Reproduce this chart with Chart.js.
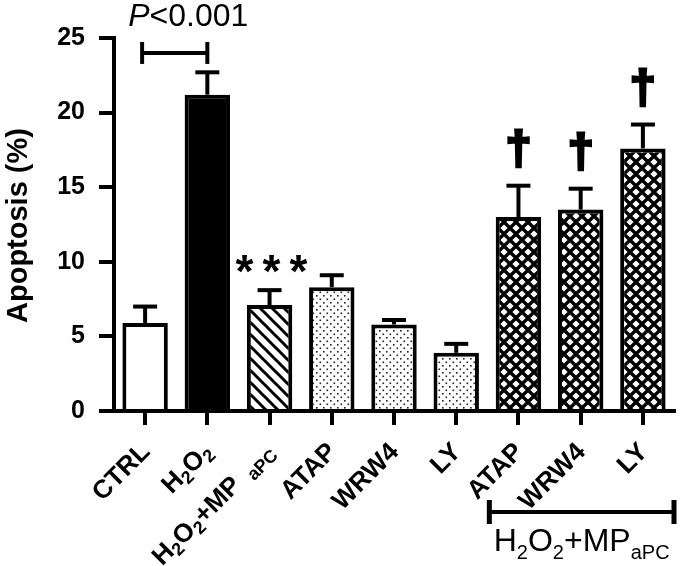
<!DOCTYPE html>
<html>
<head>
<meta charset="utf-8">
<script src="https://cdn.jsdelivr.net/npm/chart.js@4"></script>
<style>
  html, body { margin: 0; padding: 0; background: #fff; }
  #wrap { width: 680px; height: 566px; position: relative; }
</style>
</head>
<body>
<div id="wrap"><canvas id="c" width="680" height="566"></canvas></div>
<script>
// ---- data ----
const categories = ['CTRL', 'H_{2}O_{2}', 'H_{2}O_{2}+MP _{ aPC}', 'ATAP', 'WRW4', 'LY', 'ATAP', 'WRW4', 'LY'];
const apoptosis = [5.9, 21.2, 7.1, 8.3, 5.8, 3.9, 13.0, 13.5, 17.6];
const sem = [1.1, 1.5, 1.0, 0.8, 0.3, 0.6, 2.1, 1.4, 1.6];
const fills = ['white', 'black', 'stripes', 'dots', 'dots', 'dots', 'cross', 'cross', 'cross'];
const yTicks = [0, 5, 10, 15, 20, 25];
const daggerIdx = [6, 7, 8];
const starIdx = [2];
const groupLabel = 'H_{2}O_{2}+MP_{aPC}';
const pText = 'P<0.001';

const FONT = '"Liberation Sans", Arial, Helvetica, sans-serif';

function makePattern(type) {
  const c = document.createElement('canvas');
  const x = c.getContext('2d');
  if (type === 'stripes') {
    c.width = 12; c.height = 12;
    x.fillStyle = '#fff'; x.fillRect(0, 0, 12, 12);
    x.strokeStyle = '#000'; x.lineWidth = 3;
    [-12, 0, 12].forEach(o => {
      x.beginPath(); x.moveTo(o - 2, -2); x.lineTo(o + 14, 14); x.stroke();
    });
  } else if (type === 'dots') {
    c.width = 7; c.height = 7;
    x.fillStyle = '#fff'; x.fillRect(0, 0, 7, 7);
    x.fillStyle = '#222';
    x.fillRect(1, 1, 1.6, 1.6);
    x.fillRect(4.5, 4.5, 1.6, 1.6);
  } else if (type === 'cross') {
    c.width = 12; c.height = 12;
    x.fillStyle = '#000'; x.fillRect(0, 0, 12, 12);
    x.fillStyle = '#fff';
    const d = (cx, cy, r) => {
      x.beginPath(); x.moveTo(cx, cy - r); x.lineTo(cx + r, cy); x.lineTo(cx, cy + r); x.lineTo(cx - r, cy); x.closePath(); x.fill();
    };
    d(6, 6, 3.6); d(0, 0, 3.6); d(12, 0, 3.6); d(0, 12, 3.6); d(12, 12, 3.6);
  }
  return x.createPattern(c, 'repeat');
}

function fillFor(t) {
  if (t === 'white') return '#ffffff';
  if (t === 'black') return '#000000';
  return makePattern(t);
}

function parseRich(s) {
  const parts = [];
  const re = /_\{([^}]*)\}/g;
  let last = 0, m;
  while ((m = re.exec(s)) !== null) {
    if (m.index > last) parts.push({ t: s.slice(last, m.index), sub: false });
    parts.push({ t: m[1], sub: true });
    last = re.lastIndex;
  }
  if (last < s.length) parts.push({ t: s.slice(last), sub: false });
  return parts;
}

function drawRich(ctx, s, size, weight, subScale, subDrop, align) {
  const parts = parseRich(s);
  const fonts = parts.map(p => `${weight} ${p.sub ? Math.round(size * subScale) : size}px ${FONT}`);
  let total = 0;
  const widths = parts.map((p, i) => { ctx.font = fonts[i]; const w = ctx.measureText(p.t).width; total += w; return w; });
  let x = align === 'right' ? -total : align === 'center' ? -total / 2 : 0;
  ctx.textAlign = 'left';
  parts.forEach((p, i) => {
    ctx.font = fonts[i];
    ctx.fillText(p.t, x, p.sub ? subDrop : 0);
    x += widths[i];
  });
}

const errorBars = {
  id: 'errorBars',
  afterDatasetsDraw(chart) {
    const ctx = chart.ctx, ys = chart.scales.y;
    const meta = chart.getDatasetMeta(0);
    ctx.save();
    ctx.strokeStyle = '#000'; ctx.lineWidth = 4; ctx.lineCap = 'butt';
    meta.data.forEach((bar, i) => {
      const top = ys.getPixelForValue(apoptosis[i] + sem[i]);
      const base = ys.getPixelForValue(apoptosis[i]);
      ctx.beginPath(); ctx.moveTo(bar.x, base); ctx.lineTo(bar.x, top); ctx.stroke();
      ctx.beginPath(); ctx.moveTo(bar.x - 12, top); ctx.lineTo(bar.x + 12, top); ctx.stroke();
    });
    ctx.restore();
  }
};

const annotations = {
  id: 'annotations',
  afterDraw(chart) {
    const ctx = chart.ctx, xs = chart.scales.x, ys = chart.scales.y;
    const area = chart.chartArea;
    ctx.save();
    ctx.fillStyle = '#000'; ctx.strokeStyle = '#000';

    // y axis title
    ctx.save();
    ctx.translate(27, (area.top + area.bottom) / 2 + 1);
    ctx.rotate(-Math.PI / 2);
    ctx.font = `bold 29px ${FONT}`;
    ctx.textAlign = 'center'; ctx.textBaseline = 'alphabetic';
    ctx.fillText('Apoptosis (%)', 0, 0);
    ctx.restore();

    // x category labels (rotated)
    const ang = Math.PI / 4;
    categories.forEach((lab, i) => {
      const px = xs.getPixelForValue(i);
      ctx.save();
      ctx.translate(px + 1, area.bottom + 37);
      ctx.rotate(-ang);
      ctx.textBaseline = 'middle';
      drawRich(ctx, lab, 26, 'bold', 0.68, 7, 'right');
      ctx.restore();
    });

    // P bracket
    const x0 = xs.getPixelForValue(0), x1 = xs.getPixelForValue(1);
    const yb = ys.getPixelForValue(24);
    ctx.lineWidth = 4;
    ctx.beginPath(); ctx.moveTo(x0 - 3, yb); ctx.lineTo(x1, yb); ctx.stroke();
    ctx.beginPath(); ctx.moveTo(x0 - 3, yb - 11); ctx.lineTo(x0 - 3, yb + 11); ctx.stroke();
    ctx.beginPath(); ctx.moveTo(x1, yb - 11); ctx.lineTo(x1, yb + 11); ctx.stroke();
    ctx.textBaseline = 'alphabetic';
    ctx.font = `italic 32px ${FONT}`;
    const pw = ctx.measureText('P').width;
    ctx.font = `32px ${FONT}`;
    const rw = ctx.measureText(pText.slice(1)).width;
    const cx = (x0 + x1) / 2 + 12;
    let sx = cx - (pw + rw) / 2;
    ctx.textAlign = 'left';
    ctx.font = `italic 32px ${FONT}`;
    ctx.fillText('P', sx, 26);
    ctx.font = `32px ${FONT}`;
    ctx.fillText(pText.slice(1), sx + pw, 26);

    // *** above bar
    starIdx.forEach(i => {
      const px = xs.getPixelForValue(i);
      const top = ys.getPixelForValue(apoptosis[i] + sem[i]);
      ctx.font = `bold 46px ${FONT}`;
      ctx.textAlign = 'center';
      ctx.textBaseline = 'alphabetic';
      [-1, 0, 1].forEach(k => ctx.fillText('*', px + 2 + k * 27, top - 3));
    });

    // daggers
    daggerIdx.forEach(i => {
      const px = xs.getPixelForValue(i);
      const top = ys.getPixelForValue(apoptosis[i] + sem[i]);
      ctx.font = `bold 46px ${FONT}`;
      ctx.textAlign = 'center';
      ctx.textBaseline = 'alphabetic';
      ctx.lineWidth = 3;
      ctx.lineJoin = 'miter';
      ctx.fillText('†', px, top - 22);
      ctx.strokeText('†', px, top - 22);
    });

    // group bracket under the last three categories
    const half = (xs.getPixelForValue(1) - xs.getPixelForValue(0)) / 2;
    const gx0 = xs.getPixelForValue(6) - half + 2;
    const gx1 = xs.getPixelForValue(8) + half;
    const gy = 512;
    ctx.lineWidth = 4;
    ctx.beginPath(); ctx.moveTo(gx0, gy); ctx.lineTo(gx1, gy); ctx.stroke();
    ctx.lineWidth = 5;
    ctx.beginPath(); ctx.moveTo(gx0, gy - 12); ctx.lineTo(gx0, gy + 12); ctx.stroke();
    ctx.beginPath(); ctx.moveTo(gx1, gy - 12); ctx.lineTo(gx1, gy + 12); ctx.stroke();
    ctx.save();
    ctx.translate((gx0 + gx1) / 2, 551);
    ctx.textBaseline = 'alphabetic';
    drawRich(ctx, groupLabel, 32, 'normal', 0.64, 8, 'center');
    ctx.restore();

    ctx.restore();
  }
};

new Chart(document.getElementById('c'), {
  type: 'bar',
  data: {
    labels: categories,
    datasets: [{
      data: apoptosis,
      backgroundColor: fills.map(fillFor),
      borderColor: '#000',
      borderWidth: 4,
      borderSkipped: 'start',
      barPercentage: 0.73,
      categoryPercentage: 1.0
    }]
  },
  options: {
    responsive: false,
    animation: false,
    devicePixelRatio: 1,
    layout: { padding: { top: 38, right: 6, left: 0, bottom: 0 } },
    plugins: { legend: { display: false }, tooltip: { enabled: false }, title: { display: false } },
    scales: {
      x: {
        offset: true,
        grid: { display: true, offset: false, drawOnChartArea: false, drawTicks: true, tickLength: 14, lineWidth: 4, color: '#000' },
        border: { display: true, width: 4, color: '#000' },
        ticks: { display: false },
        afterFit(s) { s.height = 155; }
      },
      y: {
        min: 0, max: 25,
        afterBuildTicks(s) { s.ticks = yTicks.map(v => ({ value: v })); },
        ticks: { color: '#000', font: { family: FONT, size: 25, weight: 'bold' }, padding: 14 },
        grid: { display: true, drawOnChartArea: false, drawTicks: true, tickLength: 15, lineWidth: 4, color: '#000' },
        border: { display: true, width: 4, color: '#000' },
        afterFit(s) { s.width = 114; }
      }
    }
  },
  plugins: [errorBars, annotations]
});
</script>
</body>
</html>
